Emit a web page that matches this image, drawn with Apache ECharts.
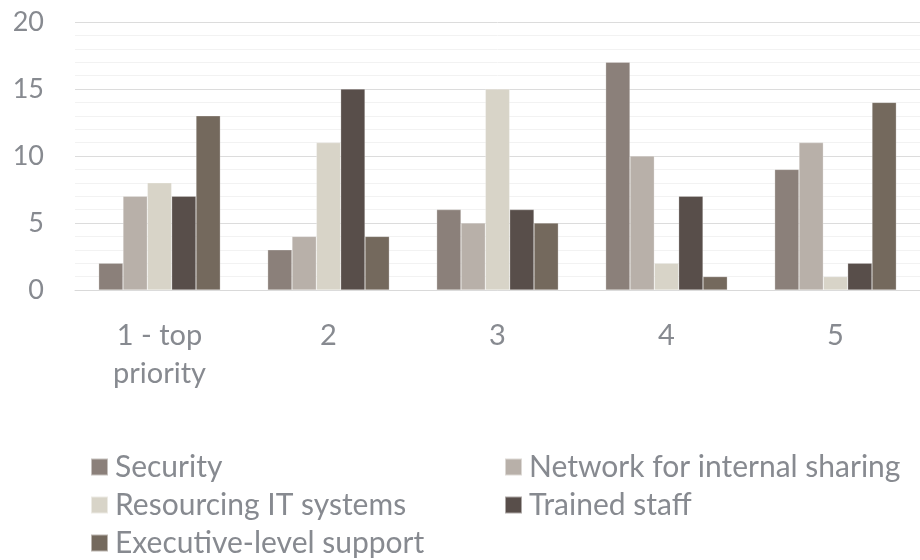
<!DOCTYPE html>
<html>
<head>
<meta charset="utf-8">
<script src="https://cdn.jsdelivr.net/npm/echarts@6/dist/echarts.min.js"></script>
<style>
  html, body { margin: 0; padding: 0; background: #fff; }
  #chart { width: 920px; height: 560px; }
</style>
</head>
<body>
<div id="chart"></div>
<script>
var categories = ['1 - top\npriority', '2', '3', '4', '5'];
var seriesNames = ['Security', 'Network for internal sharing', 'Resourcing IT systems', 'Trained staff', 'Executive-level support'];
var security = [2, 3, 6, 17, 9];
var network = [7, 4, 5, 10, 11];
var resourcing = [8, 11, 15, 2, 1];
var trained = [7, 15, 6, 7, 2];
var executive = [13, 4, 5, 1, 14];
var colors = ['#8b807a', '#b8b0a9', '#d8d4c8', '#584e4a', '#74695d'];

var FONT = 'Lato';
var TEXT_COLOR = '#878a90';

var values = [security, network, resourcing, trained, executive];
var series = [];
for (var i = 0; i < values.length; i++) {
    series.push({
        name: seriesNames[i],
        type: 'bar',
        data: values[i],
        barGap: '0%',
        barCategoryGap: '28%',
        itemStyle: { color: colors[i], borderColor: 'rgba(255,255,255,0.5)', borderWidth: 0.5 }
    });
}

// two legend columns, like the original layout
function legend(names, left) {
    return {
        orient: 'vertical',
        left: left,
        top: 452,
        padding: 0,
        data: names,
        icon: 'rect',
        itemWidth: 17,
        itemHeight: 17,
        itemGap: 8,
        textStyle: { fontFamily: FONT, fontSize: 30, color: TEXT_COLOR, padding: [0, 0, 0, 2] }
    };
}

var chart = echarts.init(document.getElementById('chart'));
var option = {
    animation: false,
    color: colors,
    grid: { left: 75, right: 0, top: 22, bottom: 270 },
    legend: [
        legend([seriesNames[0], seriesNames[2], seriesNames[4]], 90),
        legend([seriesNames[1], seriesNames[3]], 504)
    ],
    xAxis: {
        type: 'category',
        data: categories,
        axisLine: { lineStyle: { color: '#d9d9d9', width: 1 } },
        axisTick: { show: false },
        axisLabel: {
            fontFamily: FONT, fontSize: 29, color: TEXT_COLOR,
            margin: 27, lineHeight: 38
        }
    },
    yAxis: {
        type: 'value',
        min: 0,
        max: 20,
        interval: 5,
        axisLine: { show: false },
        axisTick: { show: false },
        axisLabel: { fontFamily: FONT, fontSize: 27, color: TEXT_COLOR, margin: 31 },
        splitLine: { lineStyle: { color: '#dcdcdc', width: 1 } },
        minorTick: { show: false, splitNumber: 5 },
        minorSplitLine: { show: true, lineStyle: { color: '#f2f2f2', width: 1 } }
    },
    series: series
};
chart.setOption(option);
</script>
</body>
</html>
